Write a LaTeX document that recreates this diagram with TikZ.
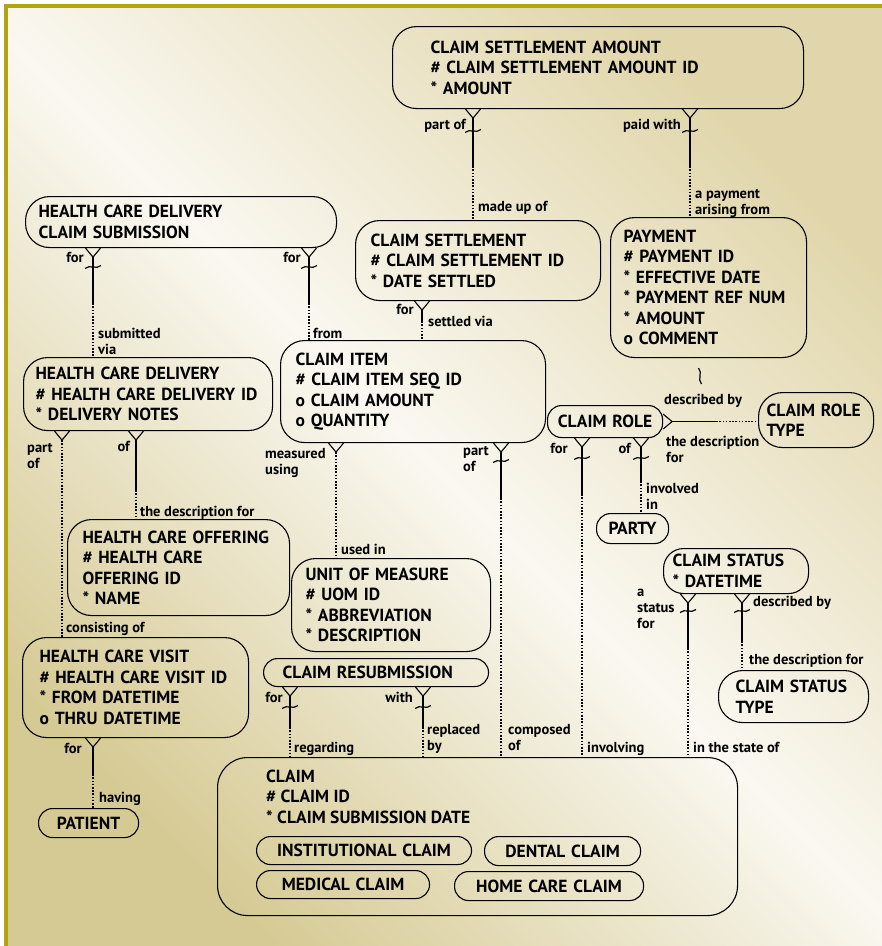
\documentclass[tikz,border=0pt]{standalone}
\usepackage{fontspec}
\setmainfont{PT Sans}
\usepackage{tikz}
\usetikzlibrary{positioning}

\definecolor{bgdark}{HTML}{D6CA94}
\definecolor{bgtop}{HTML}{E1D6AB}
\definecolor{bgmid}{HTML}{FAF8F1}
\definecolor{framecol}{HTML}{B3A30F}

\newcommand\entfont{\fontsize{17.5}{20.5}\selectfont\bfseries}
\newcommand\lblfont{\fontsize{14.5}{16}\selectfont\bfseries}

\begin{document}
\begin{tikzpicture}[
        x=1pt, y=-1pt,
        entity/.style={draw, line width=1.1pt, rounded corners=24pt, align=left, anchor=north west,
            inner ysep=0pt, font=\entfont},
        small/.style={entity, rounded corners=14pt, align=center},
        mand/.style={line width=1.2pt},
        opt/.style={line width=1.2pt, dash pattern=on 1.6pt off 1.6pt},
        lbl/.style={font=\lblfont, align=left, inner sep=0pt},
        crow/.pic={\draw[line width=1.1pt] (-7.5,0) -- (0,9) -- (7.5,0);},
        tilde/.pic={\draw[line width=1.2pt] (-8,1.5) .. controls (-3,-3) and (3,3) .. (8,-1.5);}
    ]
    \useasboundingbox (0,0) rectangle (882,946);
    % background and frame
    \fill[white] (0,0) rectangle (882,946);
    \shade[left color=bgdark, right color=bgtop, middle color=bgmid, shading angle=135] (4,4) rectangle (882,946);
    \draw[framecol, line width=3.5pt] (5.75,946) -- (5.75,5.75) -- (882,5.75);

    % Entities
    \node[entity, text width=335pt, inner xsep=38pt, minimum height=82pt] (csa) at (392,26)
        {CLAIM SETTLEMENT AMOUNT\\\# CLAIM SETTLEMENT AMOUNT ID\\{*} AMOUNT};
    \node[entity, text width=285pt, inner xsep=13pt, minimum height=51pt] (hcdcs) at (25,196)
        {HEALTH CARE DELIVERY\\CLAIM SUBMISSION};
    \node[entity, text width=215pt, inner xsep=15pt, minimum height=80pt] (cs) at (355,220)
        {CLAIM SETTLEMENT\\\# CLAIM SETTLEMENT ID\\{*} DATE SETTLED};
    \node[entity, text width=170pt, inner xsep=13pt, minimum height=140pt] (pay) at (610,217)
        {PAYMENT\\\# PAYMENT ID\\{*} EFFECTIVE DATE\\{*} PAYMENT REF NUM\\{*} AMOUNT\\o COMMENT};
    \node[entity, text width=225pt, inner xsep=12pt, minimum height=73pt] (hcd) at (23,357)
        {HEALTH CARE DELIVERY\\\# HEALTH CARE DELIVERY ID\\{*} DELIVERY NOTES};
    \node[entity, text width=235pt, inner xsep=15pt, minimum height=102pt] (ci) at (280,340)
        {CLAIM ITEM\\\# CLAIM ITEM SEQ ID\\o CLAIM AMOUNT\\o QUANTITY};
    \node[small, text width=99pt, inner xsep=8pt, minimum height=32pt] (crole) at (547,405) {CLAIM ROLE};
    \node[entity, text width=99pt, inner xsep=8pt, minimum height=55pt] (crt) at (758,392) {CLAIM ROLE\\TYPE};
    \node[small, text width=56pt, inner xsep=8pt, minimum height=30pt] (party) at (596,513) {PARTY};
    \node[entity, text width=192pt, inner xsep=15pt, minimum height=96pt] (hco) at (67,519)
        {HEALTH CARE OFFERING\\\# HEALTH CARE\\OFFERING ID\\{*} NAME};
    \node[entity, text width=171pt, inner xsep=14pt, minimum height=93pt] (uom) at (291,558)
        {UNIT OF MEASURE\\\# UOM ID\\{*} ABBREVIATION\\{*} DESCRIPTION};
    \node[entity, text width=127pt, inner xsep=9pt, minimum height=45pt, rounded corners=20pt] (cst) at (663,548)
        {CLAIM STATUS\\{*} DATETIME};
    \node[entity, text width=116pt, inner xsep=17pt, minimum height=52pt] (cstt) at (718,670) {CLAIM STATUS\\TYPE};
    \node[entity, text width=192pt, inner xsep=17pt, minimum height=100pt] (hcv) at (22,637)
        {HEALTH CARE VISIT\\\# HEALTH CARE VISIT ID\\{*} FROM DATETIME\\o THRU DATETIME};
    \node[small, align=left, text width=187pt, inner xsep=19pt, minimum height=28pt] (cres) at (263,658) {CLAIM RESUBMISSION};
    \node[small, text width=84pt, inner xsep=8pt, minimum height=29pt] (patient) at (38,808) {PATIENT};
    \node[entity, minimum width=520pt, minimum height=158pt, rounded corners=30pt] (claim) at (217,757) {};
    \node[font=\entfont, align=left, inner sep=0pt, anchor=base west] (claimtxt) at (266,823)
        {CLAIM\\\# CLAIM ID\\{*} CLAIM SUBMISSION DATE};
    \node[small, text width=199pt, inner xsep=8pt, minimum height=28pt] (inst) at (256,836) {INSTITUTIONAL CLAIM};
    \node[small, text width=140pt, inner xsep=8pt, minimum height=29pt] (dental) at (484,836) {DENTAL CLAIM};
    \node[small, text width=157pt, inner xsep=8pt, minimum height=28pt] (medical) at (256,870) {MEDICAL CLAIM};
    \node[small, text width=173pt, inner xsep=8pt, minimum height=29pt] (homecare) at (454,871) {HOME CARE CLAIM};

    % Relationships
    \pic at (csa.south -| 473,0) {crow};
    \pic at (473,131) {tilde};
    \draw[mand] (csa.south -| 473,0) ++(0,9) -- ++(0,48) coordinate (r1);
    \draw[opt] (r1) -- (r1 |- cs.north);

    \pic at (csa.south -| 690,0) {crow};
    \pic at (690,131) {tilde};
    \draw[mand] (csa.south -| 690,0) ++(0,9) -- ++(0,48) coordinate (r2);
    \draw[opt] (r2) -- (r2 |- pay.north);

    \pic at (hcdcs.south -| 93,0) {crow};
    \pic at (93,267) {tilde};
    \draw[mand] (hcdcs.south -| 93,0) ++(0,9) -- ++(0,46) coordinate (r3);
    \draw[opt] (r3) -- (r3 |- hcd.north);

    \pic at (hcdcs.south -| 309,0) {crow};
    \pic at (309,267) {tilde};
    \draw[mand] (hcdcs.south -| 309,0) ++(0,9) -- ++(0,46) coordinate (r4);
    \draw[opt] (r4) -- (r4 |- ci.north);

    \pic at (cs.south -| 422,0) {crow};
    \draw[mand] (cs.south -| 422,0) ++(0,9) -- ++(0,11) coordinate (r5);
    \draw[opt] (r5) -- (r5 |- ci.north);

    \pic at (hcd.south -| 62,0) {crow};
    \draw[opt] (hcd.south -| 62,0) ++(0,9) coordinate (r6) -- (r6 |- hcv.north);

    \pic at (hcd.south -| 136,0) {crow};
    \draw[mand] (hcd.south -| 136,0) ++(0,9) -- ++(0,50) coordinate (r7);
    \draw[opt] (r7) -- (r7 |- hco.north);

    \pic at (hcv.south -| 93,0) {crow};
    \draw[mand] (hcv.south -| 93,0) ++(0,9) -- ++(0,27) coordinate (r8);
    \draw[opt] (r8) -- (r8 |- patient.north);

    \pic at (ci.south -| 336,0) {crow};
    \draw[opt] (ci.south -| 336,0) ++(0,9) coordinate (r9) -- (r9 |- uom.north);

    \pic at (ci.south -| 501,0) {crow};
    \pic at (501,461) {tilde};
    \draw[mand] (ci.south -| 501,0) ++(0,9) -- ++(0,46) coordinate (r10);
    \draw[opt] (r10) -- (r10 |- claim.north);

    \pic[rotate=90] at (crole.east) {crow};
    \draw[mand] (crole.east) ++(9,0) -- ++(44,0) coordinate (r11);
    \draw[opt] (r11) -- (r11 -| crt.west);

    \pic at (crole.south -| 582,0) {crow};
    \pic at (582,458) {tilde};
    \draw[mand] (crole.south -| 582,0) ++(0,9) -- ++(0,47) coordinate (r12);
    \draw[opt] (r12) -- (r12 |- claim.north);

    \pic at (crole.south -| 641,0) {crow};
    \pic at (641,458) {tilde};
    \draw[mand] (crole.south -| 641,0) ++(0,9) -- ++(0,34) coordinate (r13);
    \draw[opt] (r13) -- (r13 |- party.north);

    \pic at (cst.south -| 688,0) {crow};
    \pic at (688,611) {tilde};
    \draw[mand] (cst.south -| 688,0) ++(0,9) -- ++(0,45) coordinate (r14);
    \draw[opt] (r14) -- (r14 |- claim.north);

    \pic at (cst.south -| 742,0) {crow};
    \pic at (742,611) {tilde};
    \draw[mand] (cst.south -| 742,0) ++(0,9) -- ++(0,38) coordinate (r15);
    \draw[opt] (r15) -- (r15 |- cstt.north);

    \pic at (cres.south -| 290,0) {crow};
    \pic at (290,707) {tilde};
    \draw[mand] (cres.south -| 290,0) ++(0,9) -- ++(0,31) coordinate (r16);
    \draw[opt] (r16) -- (r16 |- claim.north);

    \pic at (cres.south -| 423,0) {crow};
    \pic at (423,707) {tilde};
    \draw[mand] (cres.south -| 423,0) ++(0,9) -- ++(0,31) coordinate (r17);
    \draw[opt] (r17) -- (r17 |- claim.north);

    \pic[rotate=90] at (700,376) {tilde};

    % Labels (base = baseline of the last line)
    \node[lbl, anchor=base east] (l1a) at (466,129) {part of};
    \node[lbl, anchor=base west] (l1b) at (478,211) {made up of};
    \node[lbl, anchor=base east] (l2a) at (681,129) {paid with};
    \node[lbl, anchor=base west] (l2b) at (695,214) {a payment\\arising from};
    \node[lbl, anchor=base east] (l3a) at (84,262) {for};
    \node[lbl, anchor=base west] (l3b) at (98,354) {submitted\\via};
    \node[lbl, anchor=base east] (l4a) at (301,262) {for};
    \node[lbl, anchor=base west] (l4b) at (313,338) {from};
    \node[lbl, anchor=base east] (l5a) at (414,314) {for};
    \node[lbl, anchor=base west] (l5b) at (428,326) {settled via};
    \node[lbl, anchor=base west] (l6a) at (27,468) {part\\of};
    \node[lbl, anchor=base west] (l6b) at (66,632) {consisting of};
    \node[lbl, anchor=base east] (l7a) at (130,451) {of};
    \node[lbl, anchor=base west] (l7b) at (140,516) {the description for};
    \node[lbl, anchor=base east] (l8a) at (82,753) {for};
    \node[lbl, anchor=base west] (l8b) at (99,802) {having};
    \node[lbl, anchor=base west] (l9a) at (265,474) {measured\\using};
    \node[lbl, anchor=base west] (l9b) at (341,554) {used in};
    \node[lbl, anchor=base west] (l10a) at (463,471) {part\\of};
    \node[lbl, anchor=base west] (l10b) at (508,750) {composed\\of};
    \node[lbl, anchor=base west] (l11a) at (664,404) {described by};
    \node[lbl, anchor=base west] (l11b) at (666,462) {the description\\for};
    \node[lbl, anchor=base east] (l12a) at (568,453) {for};
    \node[lbl, anchor=base west] (l12b) at (587,752) {involving};
    \node[lbl, anchor=base east] (l13a) at (631,453) {of};
    \node[lbl, anchor=base west] (l13b) at (646,509) {involved\\in};
    \node[lbl, anchor=base west] (l14a) at (637,628) {a\\status\\for};
    \node[lbl, anchor=base west] (l14b) at (693,752) {in the state of};
    \node[lbl, anchor=base west] (l15a) at (753,606) {described by};
    \node[lbl, anchor=base west] (l15b) at (749,664) {the description for};
    \node[lbl, anchor=base east] (l16a) at (283,702) {for};
    \node[lbl, anchor=base west] (l16b) at (294,752) {regarding};
    \node[lbl, anchor=base east] (l17a) at (413,702) {with};
    \node[lbl, anchor=base west] (l17b) at (427,750) {replaced\\by};
\end{tikzpicture}
\end{document}
